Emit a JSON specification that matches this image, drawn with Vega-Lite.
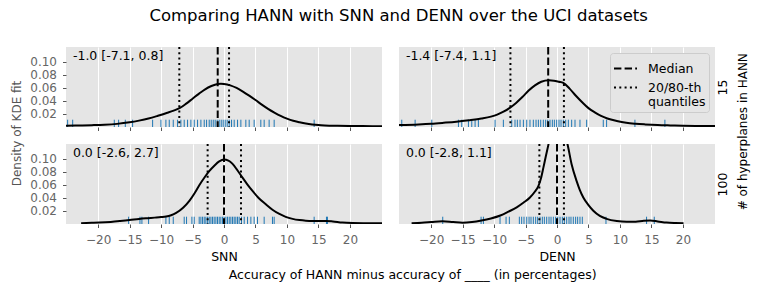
{
  "$schema": "https://vega.github.io/schema/vega-lite/v6.json",
  "padding": {"left": 10, "top": 8, "right": 5, "bottom": 5},
  "config": {
    "font": "DejaVu Sans",
    "view": {"fill": "#e5e5e5", "stroke": null},
    "axis": {"labelFont": "DejaVu Sans", "labelFontSize": 12, "labelColor": "#666666", "labelOverlap": false, "tickCount": 50, "tickColor": "#555555", "tickSize": 3.5, "tickWidth": 1, "domain": false, "gridColor": "#ffffff", "gridWidth": 1, "titleFont": "DejaVu Sans", "titleFontSize": 12.5, "titleFontWeight": "normal", "titleColor": "#000000", "labelPadding": 6},
    "title": {"font": "DejaVu Sans", "fontWeight": "normal", "color": "#000000"},
    "legend": {"labelFont": "DejaVu Sans"}
  },
  "title": {"text": "Comparing HANN with SNN and DENN over the UCI datasets", "fontSize": 16.5, "anchor": "middle", "offset": 21.5, "dx": 19},
  "datasets": {
    "kde": [
      {"panel":"TL","x":-25.1,"d":0.0020},{"panel":"TL","x":-23,"d":0.0023},{"panel":"TL","x":-21,"d":0.0028},{"panel":"TL","x":-19,"d":0.0035},{"panel":"TL","x":-17,"d":0.0048},{"panel":"TL","x":-15,"d":0.0072},{"panel":"TL","x":-13.5,"d":0.0098},{"panel":"TL","x":-12,"d":0.0130},{"panel":"TL","x":-10.5,"d":0.0172},{"panel":"TL","x":-9,"d":0.0218},{"panel":"TL","x":-8,"d":0.0252},{"panel":"TL","x":-7,"d":0.0293},{"panel":"TL","x":-6,"d":0.0360},{"panel":"TL","x":-5,"d":0.0435},{"panel":"TL","x":-4,"d":0.0510},{"panel":"TL","x":-3,"d":0.0580},{"panel":"TL","x":-2,"d":0.0630},{"panel":"TL","x":-1,"d":0.0662},{"panel":"TL","x":-0.5,"d":0.0666},{"panel":"TL","x":0,"d":0.0662},{"panel":"TL","x":1,"d":0.0640},{"panel":"TL","x":2,"d":0.0600},{"panel":"TL","x":3,"d":0.0545},{"panel":"TL","x":4,"d":0.0482},{"panel":"TL","x":5,"d":0.0415},{"panel":"TL","x":6,"d":0.0345},{"panel":"TL","x":7,"d":0.0280},{"panel":"TL","x":8,"d":0.0222},{"panel":"TL","x":9,"d":0.0170},{"panel":"TL","x":10,"d":0.0128},{"panel":"TL","x":11,"d":0.0095},{"panel":"TL","x":12,"d":0.0073},{"panel":"TL","x":13,"d":0.0054},{"panel":"TL","x":14,"d":0.0040},{"panel":"TL","x":15,"d":0.0030},{"panel":"TL","x":16,"d":0.0024},{"panel":"TL","x":18,"d":0.0018},{"panel":"TL","x":20,"d":0.0015},{"panel":"TL","x":22,"d":0.0014},{"panel":"TL","x":25.1,"d":0.0013},
      {"panel":"TR","x":-25.1,"d":0.0030},{"panel":"TR","x":-22,"d":0.0040},{"panel":"TR","x":-20,"d":0.0050},{"panel":"TR","x":-18,"d":0.0065},{"panel":"TR","x":-16,"d":0.0082},{"panel":"TR","x":-14,"d":0.0105},{"panel":"TR","x":-12,"d":0.0132},{"panel":"TR","x":-10.5,"d":0.0160},{"panel":"TR","x":-9.5,"d":0.0190},{"panel":"TR","x":-8.5,"d":0.0235},{"panel":"TR","x":-7.5,"d":0.0295},{"panel":"TR","x":-6.5,"d":0.0370},{"panel":"TR","x":-5.5,"d":0.0460},{"panel":"TR","x":-4.5,"d":0.0560},{"panel":"TR","x":-3.5,"d":0.0640},{"panel":"TR","x":-2.5,"d":0.0695},{"panel":"TR","x":-1.3,"d":0.0718},{"panel":"TR","x":-0.5,"d":0.0712},{"panel":"TR","x":0.3,"d":0.0695},{"panel":"TR","x":1,"d":0.0678},{"panel":"TR","x":2,"d":0.0590},{"panel":"TR","x":3,"d":0.0480},{"panel":"TR","x":4,"d":0.0380},{"panel":"TR","x":5,"d":0.0290},{"panel":"TR","x":6,"d":0.0225},{"panel":"TR","x":7,"d":0.0170},{"panel":"TR","x":8,"d":0.0130},{"panel":"TR","x":9.5,"d":0.0092},{"panel":"TR","x":11,"d":0.0065},{"panel":"TR","x":12.5,"d":0.0050},{"panel":"TR","x":14,"d":0.0040},{"panel":"TR","x":16,"d":0.0030},{"panel":"TR","x":18,"d":0.0024},{"panel":"TR","x":20,"d":0.0019},{"panel":"TR","x":22,"d":0.0016},{"panel":"TR","x":25.1,"d":0.0014},
      {"panel":"BL","x":-22.7,"d":0.0013},{"panel":"BL","x":-21,"d":0.0018},{"panel":"BL","x":-19.8,"d":0.0022},{"panel":"BL","x":-18,"d":0.0032},{"panel":"BL","x":-16.5,"d":0.0045},{"panel":"BL","x":-15,"d":0.0060},{"panel":"BL","x":-13.5,"d":0.0078},{"panel":"BL","x":-12.4,"d":0.0088},{"panel":"BL","x":-11,"d":0.0098},{"panel":"BL","x":-10,"d":0.0106},{"panel":"BL","x":-9.2,"d":0.0115},{"panel":"BL","x":-8.4,"d":0.0135},{"panel":"BL","x":-7.6,"d":0.0170},{"panel":"BL","x":-6.5,"d":0.0250},{"panel":"BL","x":-5.5,"d":0.0356},{"panel":"BL","x":-4.7,"d":0.0470},{"panel":"BL","x":-3.9,"d":0.0600},{"panel":"BL","x":-3.1,"d":0.0715},{"panel":"BL","x":-2.35,"d":0.0812},{"panel":"BL","x":-1.5,"d":0.0900},{"panel":"BL","x":-0.76,"d":0.0962},{"panel":"BL","x":0,"d":0.0990},{"panel":"BL","x":0.7,"d":0.0975},{"panel":"BL","x":1.36,"d":0.0924},{"panel":"BL","x":2.1,"d":0.0830},{"panel":"BL","x":2.94,"d":0.0712},{"panel":"BL","x":3.7,"d":0.0610},{"panel":"BL","x":4.53,"d":0.0508},{"panel":"BL","x":5.5,"d":0.0400},{"panel":"BL","x":6.6,"d":0.0306},{"panel":"BL","x":7.7,"d":0.0220},{"panel":"BL","x":8.8,"d":0.0154},{"panel":"BL","x":9.8,"d":0.0110},{"panel":"BL","x":10.9,"d":0.0079},{"panel":"BL","x":12,"d":0.0060},{"panel":"BL","x":13,"d":0.0050},{"panel":"BL","x":14,"d":0.0046},{"panel":"BL","x":15,"d":0.0046},{"panel":"BL","x":16.2,"d":0.0048},{"panel":"BL","x":17.3,"d":0.0040},{"panel":"BL","x":18.8,"d":0.0022},{"panel":"BL","x":20.5,"d":0.0015},{"panel":"BL","x":22.5,"d":0.0013},{"panel":"BL","x":25.1,"d":0.0012},
      {"panel":"BR","x":-23.1,"d":0.0013},{"panel":"BR","x":-21.5,"d":0.0020},{"panel":"BR","x":-20,"d":0.0030},{"panel":"BR","x":-18.2,"d":0.0042},{"panel":"BR","x":-16.5,"d":0.0030},{"panel":"BR","x":-15,"d":0.0020},{"panel":"BR","x":-13.5,"d":0.0030},{"panel":"BR","x":-12,"d":0.0053},{"panel":"BR","x":-10.5,"d":0.0085},{"panel":"BR","x":-9,"d":0.0130},{"panel":"BR","x":-7.7,"d":0.0190},{"panel":"BR","x":-6.4,"d":0.0256},{"panel":"BR","x":-5.3,"d":0.0330},{"panel":"BR","x":-4.3,"d":0.0408},{"panel":"BR","x":-3.5,"d":0.0500},{"panel":"BR","x":-2.96,"d":0.0584},{"panel":"BR","x":-2.5,"d":0.0720},{"panel":"BR","x":-2.17,"d":0.0863},{"panel":"BR","x":-1.8,"d":0.1030},{"panel":"BR","x":-1.37,"d":0.1217},{"panel":"BR","x":-0.8,"d":0.1450},{"panel":"BR","x":0,"d":0.1650},{"panel":"BR","x":0.8,"d":0.1520},{"panel":"BR","x":1.69,"d":0.1217},{"panel":"BR","x":2.33,"d":0.0914},{"panel":"BR","x":3.12,"d":0.0660},{"panel":"BR","x":3.6,"d":0.0530},{"panel":"BR","x":4.18,"d":0.0408},{"panel":"BR","x":5,"d":0.0290},{"panel":"BR","x":5.77,"d":0.0205},{"panel":"BR","x":6.8,"d":0.0125},{"panel":"BR","x":7.88,"d":0.0079},{"panel":"BR","x":9.5,"d":0.0045},{"panel":"BR","x":11.06,"d":0.0033},{"panel":"BR","x":12.5,"d":0.0036},{"panel":"BR","x":13.8,"d":0.0050},{"panel":"BR","x":14.8,"d":0.0053},{"panel":"BR","x":16,"d":0.0040},{"panel":"BR","x":17.4,"d":0.0022},{"panel":"BR","x":18.8,"d":0.0015},{"panel":"BR","x":20.1,"d":0.0012}
    ],
    "rug": [
      {"panel":"TL","x":-24.84},{"panel":"TL","x":-24.04},{"panel":"TL","x":-17.43},{"panel":"TL","x":-16.74},{"panel":"TL","x":-15.68},{"panel":"TL","x":-14.52},{"panel":"TL","x":-11.34},{"panel":"TL","x":-10.02},{"panel":"TL","x":-9.23},{"panel":"TL","x":-8.7},{"panel":"TL","x":-8.06},{"panel":"TL","x":-7.38},{"panel":"TL","x":-6.85},{"panel":"TL","x":-6.32},{"panel":"TL","x":-5.79},{"panel":"TL","x":-5.26},{"panel":"TL","x":-4.73},{"panel":"TL","x":-4.2},{"panel":"TL","x":-3.67},{"panel":"TL","x":-3.14},{"panel":"TL","x":-2.77},{"panel":"TL","x":-2.35},{"panel":"TL","x":-2.03},{"panel":"TL","x":-1.71},{"panel":"TL","x":-1.4},{"panel":"TL","x":-1.08},{"panel":"TL","x":-0.76},{"panel":"TL","x":-0.44},{"panel":"TL","x":-0.13},{"panel":"TL","x":0.19},{"panel":"TL","x":0.51},{"panel":"TL","x":0.83},{"panel":"TL","x":1.2},{"panel":"TL","x":1.62},{"panel":"TL","x":2.15},{"panel":"TL","x":2.68},{"panel":"TL","x":3.47},{"panel":"TL","x":4.0},{"panel":"TL","x":4.79},{"panel":"TL","x":5.85},{"panel":"TL","x":6.38},{"panel":"TL","x":7.17},{"panel":"TL","x":7.97},{"panel":"TL","x":14.32},
      {"panel":"TR","x":-24.66},{"panel":"TR","x":-22.54},{"panel":"TR","x":-19.89},{"panel":"TR","x":-15.66},{"panel":"TR","x":-15.13},{"panel":"TR","x":-14.07},{"panel":"TR","x":-13.54},{"panel":"TR","x":-13.01},{"panel":"TR","x":-12.49},{"panel":"TR","x":-9.84},{"panel":"TR","x":-8.52},{"panel":"TR","x":-7.19},{"panel":"TR","x":-6.67},{"panel":"TR","x":-6.3},{"panel":"TR","x":-5.87},{"panel":"TR","x":-5.34},{"panel":"TR","x":-4.81},{"panel":"TR","x":-4.29},{"panel":"TR","x":-3.76},{"panel":"TR","x":-3.33},{"panel":"TR","x":-2.96},{"panel":"TR","x":-2.59},{"panel":"TR","x":-2.17},{"panel":"TR","x":-1.8},{"panel":"TR","x":-1.48},{"panel":"TR","x":-1.11},{"panel":"TR","x":-0.74},{"panel":"TR","x":-0.42},{"panel":"TR","x":-0.05},{"panel":"TR","x":0.32},{"panel":"TR","x":0.64},{"panel":"TR","x":1.01},{"panel":"TR","x":1.38},{"panel":"TR","x":1.8},{"panel":"TR","x":2.33},{"panel":"TR","x":2.86},{"panel":"TR","x":3.65},{"panel":"TR","x":4.71},{"panel":"TR","x":7.35},{"panel":"TR","x":7.88},{"panel":"TR","x":12.38},{"panel":"TR","x":17.14},
      {"panel":"BL","x":-15.15},{"panel":"BL","x":-13.35},{"panel":"BL","x":-13.04},{"panel":"BL","x":-11.98},{"panel":"BL","x":-9.23},{"panel":"BL","x":-8.7},{"panel":"BL","x":-8.06},{"panel":"BL","x":-6.32},{"panel":"BL","x":-5.95},{"panel":"BL","x":-5.1},{"panel":"BL","x":-4.73},{"panel":"BL","x":-3.94},{"panel":"BL","x":-3.67},{"panel":"BL","x":-3.41},{"panel":"BL","x":-3.14},{"panel":"BL","x":-2.88},{"panel":"BL","x":-2.61},{"panel":"BL","x":-2.35},{"panel":"BL","x":-2.08},{"panel":"BL","x":-1.82},{"panel":"BL","x":-1.56},{"panel":"BL","x":-1.29},{"panel":"BL","x":-1.03},{"panel":"BL","x":-0.76},{"panel":"BL","x":-0.5},{"panel":"BL","x":-0.23},{"panel":"BL","x":0.03},{"panel":"BL","x":0.3},{"panel":"BL","x":0.56},{"panel":"BL","x":0.83},{"panel":"BL","x":1.09},{"panel":"BL","x":1.36},{"panel":"BL","x":1.62},{"panel":"BL","x":1.88},{"panel":"BL","x":2.15},{"panel":"BL","x":2.41},{"panel":"BL","x":2.78},{"panel":"BL","x":3.21},{"panel":"BL","x":3.74},{"panel":"BL","x":4.27},{"panel":"BL","x":4.79},{"panel":"BL","x":5.32},{"panel":"BL","x":6.38},{"panel":"BL","x":7.7},{"panel":"BL","x":7.97},{"panel":"BL","x":14.32},{"panel":"BL","x":16.28},{"panel":"BL","x":16.43},
      {"panel":"BR","x":-18.15},{"panel":"BR","x":-12.06},{"panel":"BR","x":-11.69},{"panel":"BR","x":-9.05},{"panel":"BR","x":-8.09},{"panel":"BR","x":-7.57},{"panel":"BR","x":-5.98},{"panel":"BR","x":-5.61},{"panel":"BR","x":-5.24},{"panel":"BR","x":-4.81},{"panel":"BR","x":-4.44},{"panel":"BR","x":-4.13},{"panel":"BR","x":-3.76},{"panel":"BR","x":-3.39},{"panel":"BR","x":-3.07},{"panel":"BR","x":-2.7},{"panel":"BR","x":-2.33},{"panel":"BR","x":-2.01},{"panel":"BR","x":-1.64},{"panel":"BR","x":-1.27},{"panel":"BR","x":-0.95},{"panel":"BR","x":-0.58},{"panel":"BR","x":-0.21},{"panel":"BR","x":0.11},{"panel":"BR","x":0.48},{"panel":"BR","x":0.85},{"panel":"BR","x":1.17},{"panel":"BR","x":1.54},{"panel":"BR","x":1.91},{"panel":"BR","x":2.22},{"panel":"BR","x":2.59},{"panel":"BR","x":2.96},{"panel":"BR","x":3.28},{"panel":"BR","x":3.65},{"panel":"BR","x":4.02},{"panel":"BR","x":7.78},{"panel":"BR","x":14.23},{"panel":"BR","x":15.45}
    ],
    "stats": [
      {"panel":"TL","kind":"Median","v":-1.0},{"panel":"TL","kind":"20/80-th quantiles","v":-7.1},{"panel":"TL","kind":"20/80-th quantiles","v":0.8},
      {"panel":"TR","kind":"Median","v":-1.4},{"panel":"TR","kind":"20/80-th quantiles","v":-7.4},{"panel":"TR","kind":"20/80-th quantiles","v":1.1},
      {"panel":"BL","kind":"Median","v":0.0},{"panel":"BL","kind":"20/80-th quantiles","v":-2.6},{"panel":"BL","kind":"20/80-th quantiles","v":2.7},
      {"panel":"BR","kind":"Median","v":0.0},{"panel":"BR","kind":"20/80-th quantiles","v":-2.8},{"panel":"BR","kind":"20/80-th quantiles","v":1.1}
    ],
    "notes": [
      {"panel":"TL","label":"-1.0 [-7.1, 0.8]"},
      {"panel":"TR","label":"-1.4 [-7.4, 1.1]"},
      {"panel":"BL","label":"0.0 [-2.6, 2.7]"},
      {"panel":"BR","label":"0.0 [-2.8, 1.1]"}
    ]
  },
  "resolve": {"scale": {"strokeDash": "independent"}, "legend": {"strokeDash": "independent"}},
  "vconcat": [
    {
      "title": {"text": "# of hyperplanes in HANN", "orient": "right", "angle": -90, "baseline": "top", "fontSize": 12, "anchor": "middle", "offset": -3, "dx": 32},
      "resolve": {"scale": {"strokeDash": "independent"}, "legend": {"strokeDash": "independent"}},
      "vconcat": [
        {
          "title": {"text": "Accuracy of HANN minus accuracy of ____ (in percentages)", "orient": "bottom", "fontSize": 12.5, "anchor": "middle", "offset": 6, "dx": 43},
          "resolve": {"scale": {"strokeDash": "independent"}, "legend": {"strokeDash": "independent"}},
          "vconcat": [
            {
              "title": {"text": "Density of KDE fit", "orient": "left", "angle": -90, "fontSize": 12, "color": "#555555", "anchor": "middle", "offset": 6, "dx": 21},
              "spacing": 12,
              "resolve": {"scale": {"strokeDash": "independent"}, "legend": {"strokeDash": "independent"}},
              "vconcat": [
                {
                  "spacing": 17,
                  "resolve": {"scale": {"strokeDash": "independent"}, "legend": {"strokeDash": "independent"}},
                  "hconcat": [
                    {
                      "width": 316, "height": 80,
                      "layer": [
                        {"data": {"name": "rug"}, "transform": [{"filter": "datum.panel == 'TL'"}],
                         "mark": {"type": "rule", "color": "#1f77b4", "strokeWidth": 1},
                         "encoding": {
                           "x": {"field": "x", "type": "quantitative", "scale": {"domain": [-25.1, 25.1], "nice": false, "zero": false}, "axis": {"values": [-20,-15,-10,-5,0,5,10,15,20], "tickCount": 50, "labels": false, "grid": true, "title": null, "labelOverlap": false}},
                           "y": {"datum": 0, "type": "quantitative", "scale": {"domain": [0, 0.123], "nice": false, "zero": false}, "axis": {"values": [0.02,0.04,0.06,0.08,0.1], "tickCount": 50, "format": ".2f", "grid": false, "title": null, "labelOverlap": false}},
                           "y2": {"datum": 0.0112}}},
                        {"data": {"name": "kde"}, "transform": [{"filter": "datum.panel == 'TL'"}],
                         "mark": {"type": "line", "color": "#000000", "strokeWidth": 2, "clip": true, "interpolate": "monotone"},
                         "encoding": {
                           "x": {"field": "x", "type": "quantitative", "scale": {"domain": [-25.1, 25.1], "nice": false, "zero": false}},
                           "y": {"field": "d", "type": "quantitative", "scale": {"domain": [0, 0.123], "nice": false, "zero": false}}}},
                        {"data": {"name": "stats"}, "transform": [{"filter": "datum.panel == 'TL'"}],
                         "mark": {"type": "rule", "color": "#000000", "strokeWidth": 2},
                         "encoding": {
                           "x": {"field": "v", "type": "quantitative", "scale": {"domain": [-25.1, 25.1], "nice": false, "zero": false}},
                           "strokeDash": {"field": "kind", "type": "nominal", "scale": {"domain": ["Median", "20/80-th quantiles"], "range": [[7.4, 3.2], [2, 3.3]]}, "legend": null}}},
                        {"data": {"name": "notes"}, "transform": [{"filter": "datum.panel == 'TL'"}],
                         "mark": {"type": "text", "align": "left", "baseline": "top", "fontSize": 12.5, "dy": 3, "color": "#000000"},
                         "encoding": {
                           "text": {"field": "label"},
                           "x": {"datum": -24, "type": "quantitative", "scale": {"domain": [-25.1, 25.1], "nice": false, "zero": false}},
                           "y": {"datum": 0.123, "type": "quantitative", "scale": {"domain": [0, 0.123], "nice": false, "zero": false}}}}
                      ]
                    },
                    {
                      "width": 316, "height": 80,
                      "layer": [
                        {"data": {"name": "rug"}, "transform": [{"filter": "datum.panel == 'TR'"}],
                         "mark": {"type": "rule", "color": "#1f77b4", "strokeWidth": 1},
                         "encoding": {
                           "x": {"field": "x", "type": "quantitative", "scale": {"domain": [-25.1, 25.1], "nice": false, "zero": false}, "axis": {"values": [-20,-15,-10,-5,0,5,10,15,20], "tickCount": 50, "labels": false, "grid": true, "title": null, "labelOverlap": false}},
                           "y": {"datum": 0, "type": "quantitative", "scale": {"domain": [0, 0.123], "nice": false, "zero": false}, "axis": {"orient": "right", "values": [], "labels": false, "ticks": false, "grid": false, "title": "15", "titleAngle": -90, "titleBaseline": "top", "titlePadding": 1}},
                           "y2": {"datum": 0.0112}}},
                        {"data": {"name": "kde"}, "transform": [{"filter": "datum.panel == 'TR'"}],
                         "mark": {"type": "line", "color": "#000000", "strokeWidth": 2, "clip": true, "interpolate": "monotone"},
                         "encoding": {
                           "x": {"field": "x", "type": "quantitative", "scale": {"domain": [-25.1, 25.1], "nice": false, "zero": false}},
                           "y": {"field": "d", "type": "quantitative", "scale": {"domain": [0, 0.123], "nice": false, "zero": false}}}},
                        {"data": {"name": "stats"}, "transform": [{"filter": "datum.panel == 'TR'"}],
                         "mark": {"type": "rule", "color": "#000000", "strokeWidth": 2},
                         "encoding": {
                           "x": {"field": "v", "type": "quantitative", "scale": {"domain": [-25.1, 25.1], "nice": false, "zero": false}},
                           "strokeDash": {"field": "kind", "type": "nominal", "scale": {"domain": ["Median", "20/80-th quantiles"], "range": [[7.4, 3.2], [2, 3.3]]},
                             "legend": {"orient": "top-right", "title": null, "symbolType": "stroke", "symbolStrokeColor": "#000000", "symbolStrokeWidth": 2, "symbolSize": 529, "labelFontSize": 12.5, "labelColor": "#000000", "labelExpr": "datum.label == '20/80-th quantiles' ? ['20/80-th', 'quantiles'] : datum.label", "fillColor": "#e5e5e5", "strokeColor": "#cccccc", "cornerRadius": 3, "padding": 3, "offset": 6, "rowPadding": 0, "labelOffset": 10}}}},
                        {"data": {"name": "notes"}, "transform": [{"filter": "datum.panel == 'TR'"}],
                         "mark": {"type": "text", "align": "left", "baseline": "top", "fontSize": 12.5, "dy": 3, "color": "#000000"},
                         "encoding": {
                           "text": {"field": "label"},
                           "x": {"datum": -24, "type": "quantitative", "scale": {"domain": [-25.1, 25.1], "nice": false, "zero": false}},
                           "y": {"datum": 0.123, "type": "quantitative", "scale": {"domain": [0, 0.123], "nice": false, "zero": false}}}}
                      ]
                    }
                  ]
                },
                {
                  "spacing": 17,
                  "resolve": {"scale": {"strokeDash": "independent"}, "legend": {"strokeDash": "independent"}},
                  "hconcat": [
                    {
                      "width": 316, "height": 80,
                      "layer": [
                        {"data": {"name": "rug"}, "transform": [{"filter": "datum.panel == 'BL'"}],
                         "mark": {"type": "rule", "color": "#1f77b4", "strokeWidth": 1},
                         "encoding": {
                           "x": {"field": "x", "type": "quantitative", "scale": {"domain": [-25.1, 25.1], "nice": false, "zero": false}, "axis": {"values": [-20,-15,-10,-5,0,5,10,15,20], "tickCount": 50, "grid": true, "title": "SNN", "labelPadding": 7, "titlePadding": 5, "labelOverlap": false}},
                           "y": {"datum": 0, "type": "quantitative", "scale": {"domain": [0, 0.123], "nice": false, "zero": false}, "axis": {"values": [0.02,0.04,0.06,0.08,0.1], "tickCount": 50, "format": ".2f", "grid": false, "title": null, "labelOverlap": false}},
                           "y2": {"datum": 0.0112}}},
                        {"data": {"name": "kde"}, "transform": [{"filter": "datum.panel == 'BL'"}],
                         "mark": {"type": "line", "color": "#000000", "strokeWidth": 2, "clip": true, "interpolate": "monotone"},
                         "encoding": {
                           "x": {"field": "x", "type": "quantitative", "scale": {"domain": [-25.1, 25.1], "nice": false, "zero": false}},
                           "y": {"field": "d", "type": "quantitative", "scale": {"domain": [0, 0.123], "nice": false, "zero": false}}}},
                        {"data": {"name": "stats"}, "transform": [{"filter": "datum.panel == 'BL'"}],
                         "mark": {"type": "rule", "color": "#000000", "strokeWidth": 2},
                         "encoding": {
                           "x": {"field": "v", "type": "quantitative", "scale": {"domain": [-25.1, 25.1], "nice": false, "zero": false}},
                           "strokeDash": {"field": "kind", "type": "nominal", "scale": {"domain": ["Median", "20/80-th quantiles"], "range": [[7.4, 3.2], [2, 3.3]]}, "legend": null}}},
                        {"data": {"name": "notes"}, "transform": [{"filter": "datum.panel == 'BL'"}],
                         "mark": {"type": "text", "align": "left", "baseline": "top", "fontSize": 12.5, "dy": 3, "color": "#000000"},
                         "encoding": {
                           "text": {"field": "label"},
                           "x": {"datum": -24, "type": "quantitative", "scale": {"domain": [-25.1, 25.1], "nice": false, "zero": false}},
                           "y": {"datum": 0.123, "type": "quantitative", "scale": {"domain": [0, 0.123], "nice": false, "zero": false}}}}
                      ]
                    },
                    {
                      "width": 316, "height": 80,
                      "layer": [
                        {"data": {"name": "rug"}, "transform": [{"filter": "datum.panel == 'BR'"}],
                         "mark": {"type": "rule", "color": "#1f77b4", "strokeWidth": 1},
                         "encoding": {
                           "x": {"field": "x", "type": "quantitative", "scale": {"domain": [-25.1, 25.1], "nice": false, "zero": false}, "axis": {"values": [-20,-15,-10,-5,0,5,10,15,20], "tickCount": 50, "grid": true, "title": "DENN", "labelPadding": 7, "titlePadding": 5, "labelOverlap": false}},
                           "y": {"datum": 0, "type": "quantitative", "scale": {"domain": [0, 0.123], "nice": false, "zero": false}, "axis": {"orient": "right", "values": [], "labels": false, "ticks": false, "grid": false, "title": "100", "titleAngle": -90, "titleBaseline": "top", "titlePadding": 1}},
                           "y2": {"datum": 0.0112}}},
                        {"data": {"name": "kde"}, "transform": [{"filter": "datum.panel == 'BR'"}],
                         "mark": {"type": "line", "color": "#000000", "strokeWidth": 2, "clip": true, "interpolate": "monotone"},
                         "encoding": {
                           "x": {"field": "x", "type": "quantitative", "scale": {"domain": [-25.1, 25.1], "nice": false, "zero": false}},
                           "y": {"field": "d", "type": "quantitative", "scale": {"domain": [0, 0.123], "nice": false, "zero": false}}}},
                        {"data": {"name": "stats"}, "transform": [{"filter": "datum.panel == 'BR'"}],
                         "mark": {"type": "rule", "color": "#000000", "strokeWidth": 2},
                         "encoding": {
                           "x": {"field": "v", "type": "quantitative", "scale": {"domain": [-25.1, 25.1], "nice": false, "zero": false}},
                           "strokeDash": {"field": "kind", "type": "nominal", "scale": {"domain": ["Median", "20/80-th quantiles"], "range": [[7.4, 3.2], [2, 3.3]]}, "legend": null}}},
                        {"data": {"name": "notes"}, "transform": [{"filter": "datum.panel == 'BR'"}],
                         "mark": {"type": "text", "align": "left", "baseline": "top", "fontSize": 12.5, "dy": 3, "color": "#000000"},
                         "encoding": {
                           "text": {"field": "label"},
                           "x": {"datum": -24, "type": "quantitative", "scale": {"domain": [-25.1, 25.1], "nice": false, "zero": false}},
                           "y": {"datum": 0.123, "type": "quantitative", "scale": {"domain": [0, 0.123], "nice": false, "zero": false}}}}
                      ]
                    }
                  ]
                }
              ]
            }
          ]
        }
      ]
    }
  ]
}
